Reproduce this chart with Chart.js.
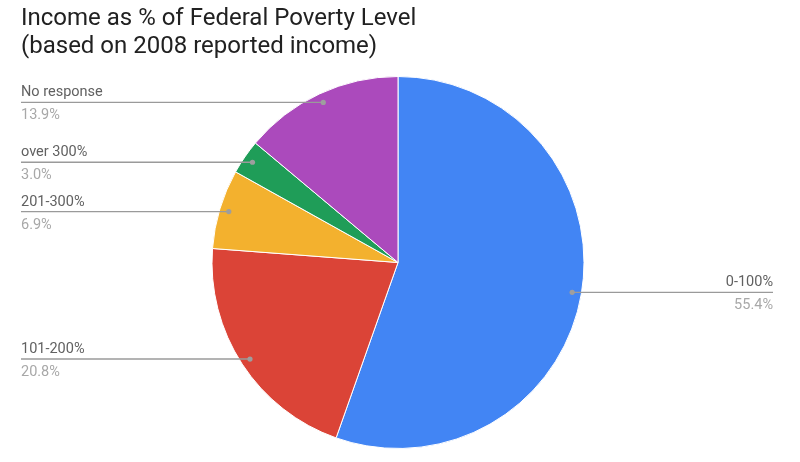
<!DOCTYPE html>
<html>
<head>
<meta charset="utf-8">
<script src="https://cdn.jsdelivr.net/npm/chart.js@4"></script>
<style>
  html, body { margin: 0; padding: 0; background: #fff; }
  #wrap { width: 800px; height: 462px; position: relative; }
</style>
</head>
<body>
<div id="wrap"><canvas id="grafico"></canvas></div>
<script>
// datos del gráfico
const categorias = ["0-100%", "101-200%", "201-300%", "over 300%", "No response"];
const porcentajes = [55.4, 20.8, 6.9, 3.0, 13.9];
const colores = ["#4285f4", "#db4437", "#f3b12e", "#1f9d58", "#ab4abc"];
const tituloLineas = ["Income as % of Federal Poverty Level", "(based on 2008 reported income)"];

// título a la izquierda, dibujado a mano
const pluginTitulo = {
  id: "tituloIzq",
  afterDraw(chart) {
    const ctx = chart.ctx;
    ctx.save();
    ctx.fillStyle = "#212121";
    ctx.font = "24px Roboto";
    ctx.textAlign = "left";
    ctx.textBaseline = "alphabetic";
    ctx.fillText(tituloLineas[0], 21, 25);
    ctx.fillText(tituloLineas[1], 21, 53);
    ctx.restore();
  }
};

// etiquetas con línea guía (estilo hoja de cálculo)
const pluginEtiquetas = {
  id: "etiquetasGuia",
  afterDatasetsDraw(chart) {
    const ctx = chart.ctx;
    const meta = chart.getDatasetMeta(0);
    ctx.save();
    meta.data.forEach((arc, i) => {
      const p = arc.getProps(["x", "y", "startAngle", "endAngle", "outerRadius"], true);
      const medio = (p.startAngle + p.endAngle) / 2;
      const r = p.outerRadius * 0.95;
      const px = p.x + Math.cos(medio) * r;
      const py = p.y + Math.sin(medio) * r;
      const derecha = Math.cos(medio) > 0;
      const xFin = derecha ? 773 : 21;

      ctx.strokeStyle = "#9a9a9a";
      ctx.lineWidth = 1.4;
      ctx.beginPath();
      ctx.moveTo(px, py);
      ctx.lineTo(xFin, py);
      ctx.stroke();

      ctx.fillStyle = "#9e9e9e";
      ctx.beginPath();
      ctx.arc(px, py, 2.6, 0, Math.PI * 2);
      ctx.fill();

      ctx.textAlign = derecha ? "right" : "left";
      ctx.font = "14.5px Roboto";
      ctx.fillStyle = "#616161";
      ctx.fillText(categorias[i], xFin, py - 6);
      ctx.fillStyle = "#a8a8a8";
      ctx.fillText(porcentajes[i].toFixed(1) + "%", xFin, py + 17);
    });
    ctx.restore();
  }
};

new Chart(document.getElementById("grafico"), {
  type: "pie",
  data: {
    labels: categorias,
    datasets: [{
      data: porcentajes,
      backgroundColor: colores,
      borderColor: "#ffffff",
      borderWidth: 1
    }]
  },
  options: {
    responsive: true,
    maintainAspectRatio: false,
    animation: false,
    layout: { padding: { top: 76, bottom: 13, left: 10, right: 14 } },
    plugins: {
      legend: { display: false },
      tooltip: { enabled: false },
      title: { display: false }
    }
  },
  plugins: [pluginTitulo, pluginEtiquetas]
});
</script>
</body>
</html>
